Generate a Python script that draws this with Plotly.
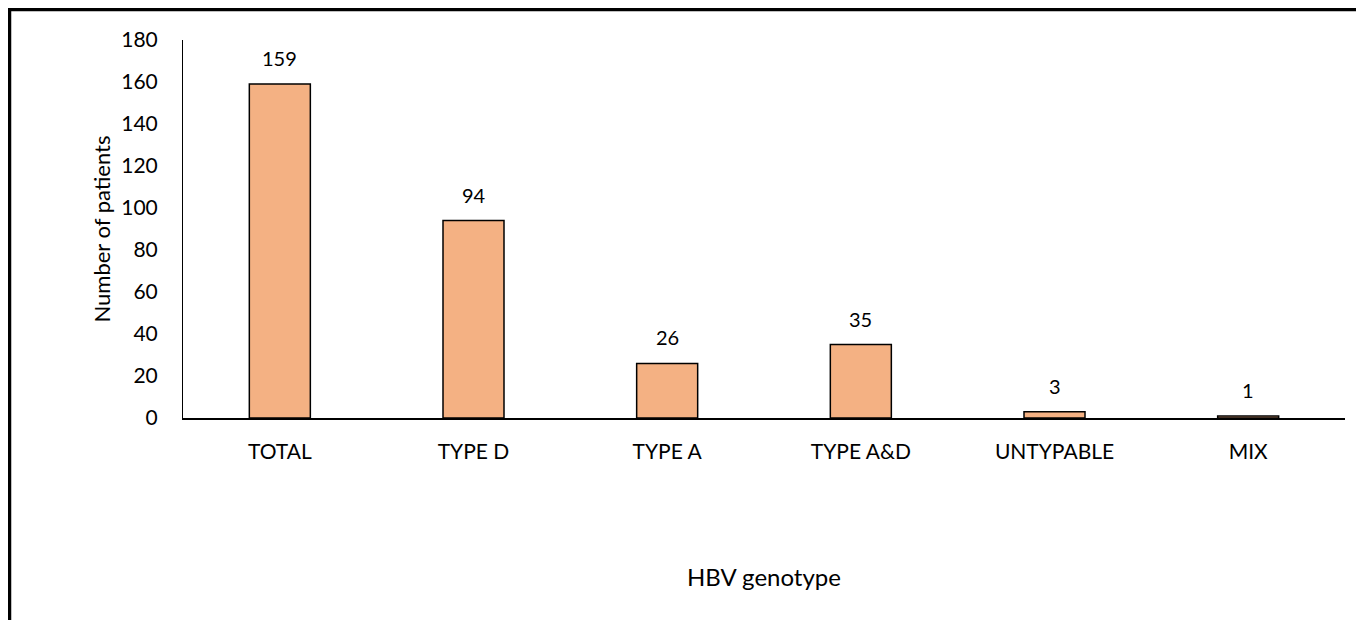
import plotly.graph_objects as go

categories = ["TOTAL", "TYPE D", "TYPE A", "TYPE A&D", "UNTYPABLE", "MIX"]
patients = [159, 94, 26, 35, 3, 1]
y_ticks = [0, 20, 40, 60, 80, 100, 120, 140, 160, 180]

FONT = "Lato, 'Open Sans', sans-serif"

fig = go.Figure()
fig.add_trace(go.Bar(
    x=categories, y=patients,
    marker=dict(color="#F4B183", line=dict(color="black", width=1.5)),
    hoverinfo="x+y",
))

for c, v in zip(categories, patients):
    fig.add_annotation(x=c, y=v, text=str(v), showarrow=False, yshift=26,
                       font=dict(family=FONT, size=20, color="black"))

# page has an 8px body margin, so figure is 1356x612 placed at (8, 8)
W, H = 1356, 612
L, R, T, B = 175, 19, 32, 202
pw, ph = W - L - R, H - T - B

def px_x(p):
    return (p - L) / pw

def px_y(p):
    return (H - B - p) / ph

border = dict(color="black", width=3.5)
fig.add_shape(type="line", xref="paper", yref="paper",
              x0=px_x(1.5), x1=px_x(1.5), y0=px_y(H + 20), y1=px_y(0), line=border)
fig.add_shape(type="line", xref="paper", yref="paper",
              x0=px_x(0), x1=px_x(1352), y0=px_y(1.5), y1=px_y(1.5), line=border)
fig.add_shape(type="line", xref="paper", yref="paper",
              x0=px_x(1350.5), x1=px_x(1350.5), y0=px_y(H + 20), y1=px_y(0),
              line=dict(color="black", width=4.5))

fig.update_layout(
    width=W, height=H,
    margin=dict(l=L, r=R, t=T, b=B, pad=0),
    paper_bgcolor="white", plot_bgcolor="white",
    bargap=0.685,
    showlegend=False,
    font=dict(family=FONT, size=21, color="black"),
    xaxis=dict(
        showline=True, linecolor="black", linewidth=1.5,
        showgrid=False, zeroline=False, ticks="",
        ticklabelstandoff=14,
        tickfont=dict(family=FONT, size=21),
        title=dict(text="HBV genotype", font=dict(family=FONT, size=24), standoff=107),
    ),
    yaxis=dict(
        range=[0, 180], tickvals=y_ticks,
        showline=True, linecolor="black", linewidth=1,
        showgrid=False, zeroline=False, ticks="",
        ticklabelstandoff=20,
        tickfont=dict(family=FONT, size=21),
        title=dict(text="Number of patients", font=dict(family=FONT, size=22), standoff=4),
    ),
)

fig.write_html("out.html")
